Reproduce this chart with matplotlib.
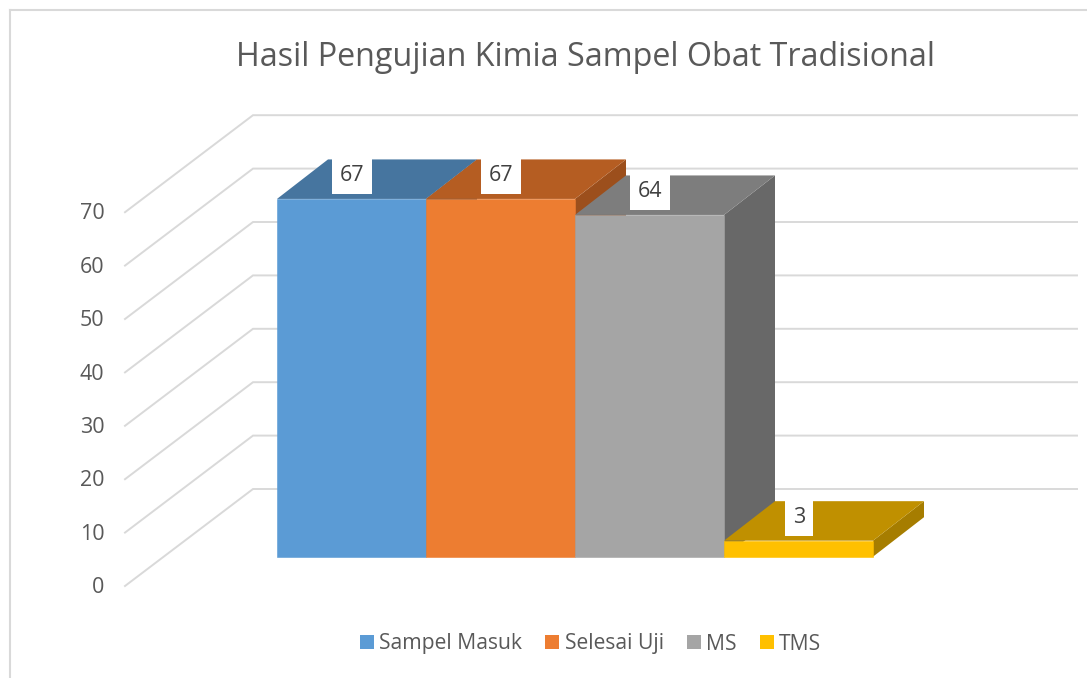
import matplotlib.pyplot as plt
from matplotlib.lines import Line2D
from matplotlib.patches import Patch, Polygon

categories = ["Sampel Masuk", "Selesai Uji", "MS", "TMS"]
values = [67, 67, 64, 3]
yticks = [0, 10, 20, 30, 40, 50, 60, 70]

front_colors = ["#5B9BD5", "#ED7D31", "#A5A5A5", "#FFC000"]
top_colors = ["#46759F", "#B55D22", "#7D7D7D", "#C09000"]
side_colors = ["#3E6A91", "#9C4F1C", "#686868", "#A67D00"]

W, H = 1087, 678
unit_x = 149.0        # pixels per bar
unit_y = 5.34         # pixels per value
x0_px, y0_px = 277, 556.7

# bar depth and floor depth, in axis units
depth_x = 51 / unit_x
depth_y = 39.5 / unit_y
wall_x0 = (125 - x0_px) / unit_x
wall_x1 = (253 - x0_px) / unit_x
wall_x2 = (1077 - x0_px) / unit_x
front_base = (y0_px - 586) / unit_y
back_base = (y0_px - 489) / unit_y

plt.rcParams['font.family'] = ['Open Sans', 'DejaVu Sans']

fig = plt.figure(figsize=(W / 100, H / 100), dpi=100)
ax = fig.add_axes([0, 0, 1, 1])
ax.set_xlim(-x0_px / unit_x, (W - x0_px) / unit_x)
ax.set_ylim((y0_px - H) / unit_y, y0_px / unit_y)
ax.axis("off")

# chart frame, only top and left edges are in the crop
fig.add_artist(Line2D([10 / W, 10 / W], [0, 1 - 10 / H], color="#D9D9D9", lw=1.5))
fig.add_artist(Line2D([10 / W, 1], [1 - 10 / H, 1 - 10 / H], color="#D9D9D9", lw=1.5))

for v in yticks:
    ax.plot([wall_x0, wall_x1, wall_x2],
            [front_base + v, back_base + v, back_base + v],
            color="#D9D9D9", lw=1.4, solid_joinstyle="miter", zorder=1)
    ax.text((104.5 - x0_px) / unit_x, front_base + v - 0.3, str(v), ha="right", va="center",
            fontsize=15.5, color="#595959")

# side and top first, front last so the seams stay clean
for i, v in enumerate(values):
    ax.add_patch(Polygon([(i + 1, 0), (i + 1 + depth_x, depth_y), (i + 1 + depth_x, v + depth_y), (i + 1, v)],
                         fc=side_colors[i], ec="none", zorder=2 + i))
    ax.add_patch(Polygon([(i, v), (i + 1, v), (i + 1 + depth_x, v + depth_y), (i + depth_x, v + depth_y)],
                         fc=top_colors[i], ec="none", zorder=2 + i))
    ax.add_patch(Polygon([(i, 0), (i + 1, 0), (i + 1, v), (i, v)],
                         fc=front_colors[i], ec=front_colors[i], lw=0.4, zorder=2 + i))

for i, v in enumerate(values):
    ax.text(i + 0.505, v + 4.35, str(v), ha="center", va="center", fontsize=15.5, color="#404040",
            zorder=10, bbox=dict(fc="white", ec="none", boxstyle="square,pad=0.36"))

ax.text(586 / W, 1 - 57.5 / H, "Hasil Pengujian Kimia Sampel Obat Tradisional", transform=ax.transAxes,
        ha="center", va="center", fontsize=23.2, color="#595959")

handles = [Patch(fc=c, ec="none") for c in front_colors]
ax.legend(handles, categories, loc="center", bbox_to_anchor=(590.5 / W, 1 - 644 / H), ncols=4,
          frameon=False, fontsize=15.2, labelcolor="#595959", handlelength=0.66, handleheight=0.66,
          handletextpad=0.25, columnspacing=1.1)

fig.savefig("out.png", dpi=100)
